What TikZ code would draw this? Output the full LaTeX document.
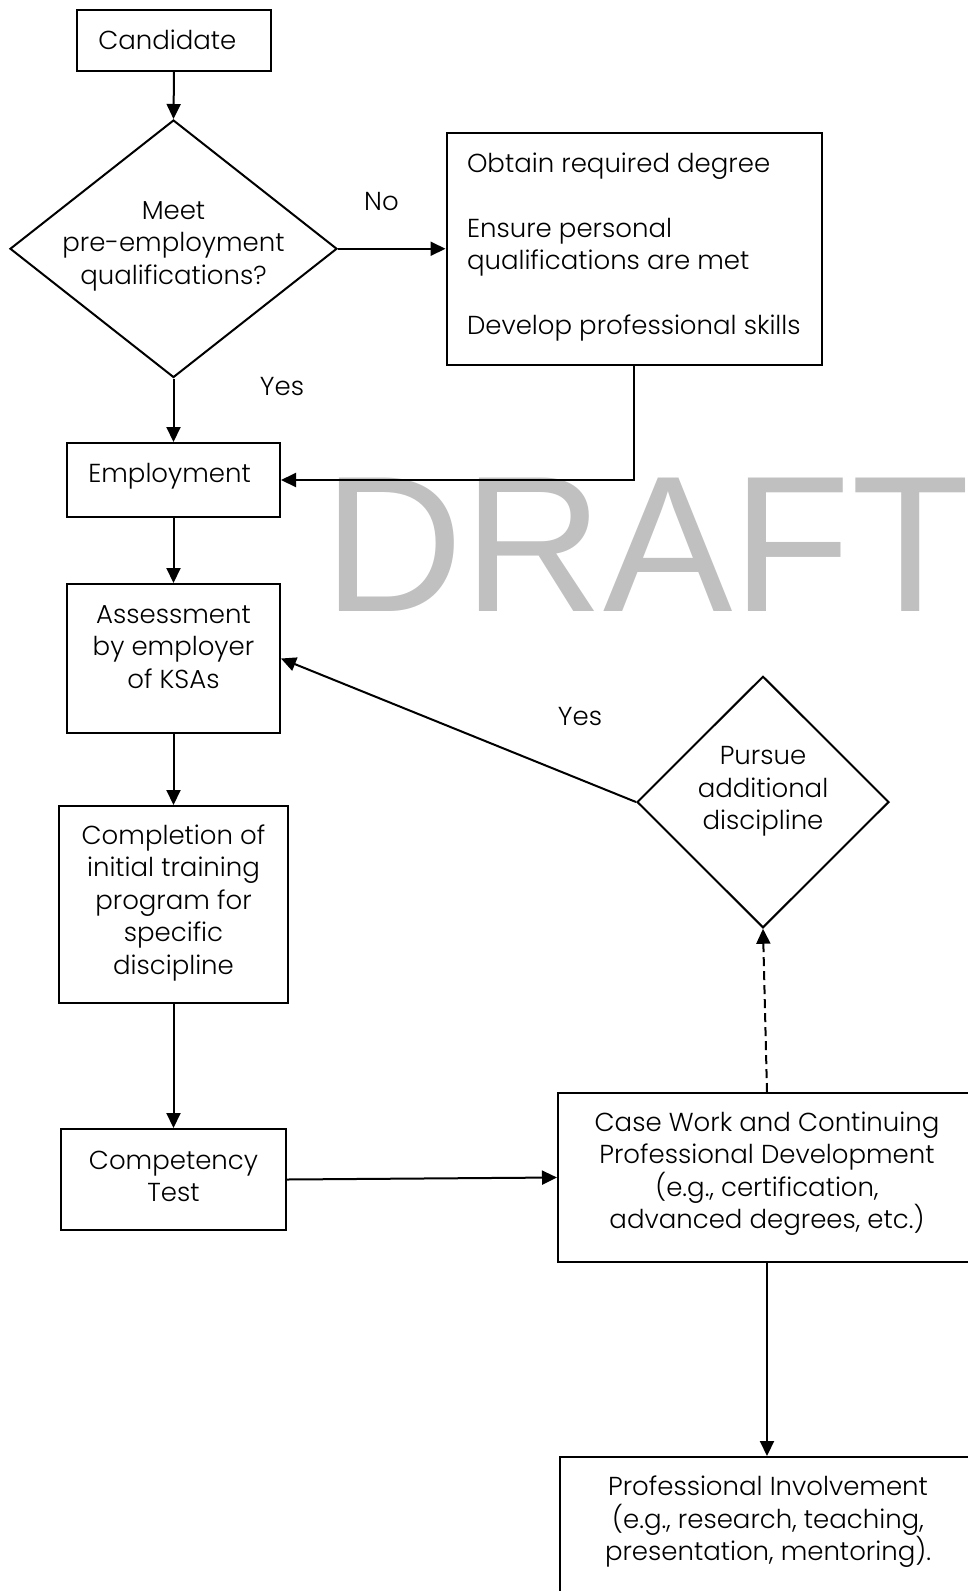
\documentclass[tikz,border=0pt]{standalone}
\usepackage{fontspec}
\setmainfont{Poppins Light}
\newfontfamily\draftfont{Liberation Sans}
\usetikzlibrary{shapes.geometric,arrows.meta}
\definecolor{draftgray}{RGB}{192,192,192}
\newcommand\bxtext[4]{\parbox[c][#2][t]{#1}{\centering\rule{0pt}{#3}#4\par}}
\newcommand\lbxtext[4]{\parbox[c][#2][t]{#1}{\raggedright\leftskip=21.3pt\parindent=0pt\rule{0pt}{#3}#4\par}}
\newcommand\dmtext[2]{\raisebox{#1}[0pt][0pt]{\makebox[0pt]{\begin{tabular}{@{}c@{}}#2\end{tabular}}}}
\begin{document}
\begin{tikzpicture}[x=1pt,y=-1pt,
  txt/.style={font=\fontsize{26}{32.5}\selectfont},
  box/.style={txt,draw,line width=2pt,rectangle,inner sep=0pt},
  dia/.style={txt,draw,line width=2pt,diamond,inner sep=0pt},
  arr/.style={line width=2pt,-{Triangle[length=15pt,width=14pt]}},
  dsh/.style={dash pattern=on 9pt off 5pt}]
\fill[white] (0,0) rectangle (967,1591);
\useasboundingbox (0,0) rectangle (967,1591);
% watermark
\node[anchor=base west,inner sep=0pt,text=draftgray,font=\draftfont\fontsize{194}{194}\selectfont] (wm) at (323,611) {DRAFT};
% nodes
\node[box] (cand) at (174,40.5) {\lbxtext{194pt}{61pt}{39pt}{Candidate}};
\node[dia,minimum width=327pt,minimum height=257.5pt] (q1) at (173.5,248.75) {\dmtext{-2.5pt}{Meet\\pre-employment\\qualifications?}};
\node[box] (obt) at (634.25,249) {\parbox[c][232pt][t]{375.5pt}{\raggedright\leftskip=20.5pt\parindent=0pt\rule{0pt}{39pt}Obtain required degree\\[32.5pt]Ensure personal\\qualifications are met\\[32.5pt]Develop professional skills\par}};
\node[box] (emp) at (173.5,480) {\lbxtext{213pt}{74pt}{39pt}{Employment}};
\node[box] (ass) at (173.5,658.5) {\bxtext{213pt}{149pt}{39pt}{Assessment\\by employer\\of KSAs}};
\node[box] (comp) at (173.5,904.25) {\bxtext{229pt}{196.5pt}{38pt}{Completion of\\initial training\\program for\\specific\\discipline}};
\node[box] (ct) at (173.5,1179.5) {\bxtext{225pt}{101pt}{40pt}{Competency\\Test}};
\node[dia,minimum width=252pt,minimum height=251.5pt] (pur) at (763,802) {\dmtext{5pt}{Pursue\\additional\\discipline}};
\node[box] (cw) at (767,1177.5) {\bxtext{418pt}{169pt}{38pt}{Case Work and Continuing\\Professional Development\\(e.g., certification,\\advanced degrees, etc.)}};
\node[box] (pi) at (768,1542) {\bxtext{416pt}{170pt}{38.5pt}{Professional Involvement\\(e.g., research, teaching,\\presentation, mentoring).}};
% labels
\node[txt,anchor=base,inner sep=0pt] (lno) at (381.5,210) {No};
\node[txt,anchor=base,inner sep=0pt] (lyes1) at (282,395) {Yes};
\node[txt,anchor=base,inner sep=0pt] (lyes2) at (580,725) {Yes};
% connectors
\draw[arr] (cand.south) -- (q1.north);
\draw[arr] (q1.east) -- (q1.east -| obt.west);
\draw[arr] (q1.south) -- (emp.north);
\draw[arr] (obt.south) |- (emp.east);
\draw[arr] (emp.south) -- (ass.north);
\draw[arr] (pur.west) -- (ass.east);
\draw[arr] (ass.south) -- (comp.north);
\draw[arr] (comp.south) -- (ct.north);
\draw[arr] (ct.east) -- (cw.west);
\draw[arr,dsh] (cw.north) -- (pur.south);
\draw[arr] (cw.south) -- (cw.south |- pi.north);
\end{tikzpicture}
\end{document}
